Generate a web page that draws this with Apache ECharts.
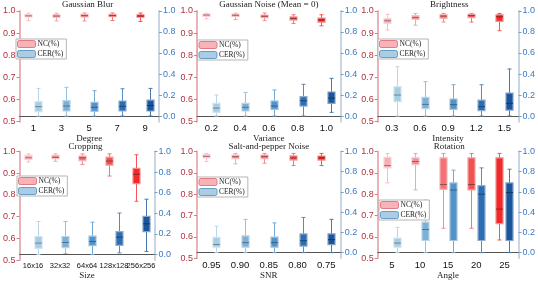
<!DOCTYPE html>
<html><head><meta charset="utf-8">
<script src="https://cdn.jsdelivr.net/npm/echarts@6/dist/echarts.min.js"></script>
<style>html,body{margin:0;padding:0;background:#fff}#c{width:538px;height:281px}</style>
</head><body><div id="c"></div>
<script>
const seriesNames = ['NC(%)', 'CER(%)'];
const panelTitles = ['Gaussian Blur', 'Gaussian Noise (Mean = 0)', 'Brightness', 'Cropping', 'Salt-and-pepper Noise', 'Rotation'];
const axisNames = ['Degree', 'Variance', 'Intensity', 'Size', 'SNR', 'Angle'];
const blurCats = ['1', '3', '5', '7', '9'];
const noiseCats = ['0.2', '0.4', '0.6', '0.8', '1.0'];
const brightCats = ['0.3', '0.6', '0.9', '1.2', '1.5'];
const cropCats = ['16x16', '32x32', '64x64', '128x128', '256x256'];
const saltCats = ['0.95', '0.90', '0.85', '0.80', '0.75'];
const rotCats = ['5', '10', '15', '20', '25'];
const rightTicks = [0, 0.2, 0.4, 0.6, 0.8, 1.0];

// each entry: [min, q1, median, q3, max]
const blurNC = [[0.956,0.973,0.978,0.984,0.990],[0.955,0.972,0.977,0.983,0.990],[0.955,0.973,0.979,0.985,0.991],[0.957,0.974,0.979,0.985,0.991],[0.953,0.972,0.977,0.983,0.991]];
const blurCER = [[0,0.041,0.089,0.137,0.263],[0,0.048,0.095,0.146,0.273],[0,0.044,0.083,0.130,0.241],[0,0.048,0.092,0.143,0.260],[0,0.048,0.100,0.152,0.263]];
const noiseNC = [[0.965,0.976,0.982,0.986,0.990],[0.961,0.976,0.981,0.985,0.990],[0.956,0.970,0.976,0.982,0.991],[0.944,0.959,0.966,0.974,0.983],[0.933,0.950,0.960,0.968,0.983]];
const noiseCER = [[0,0.035,0.076,0.121,0.200],[0,0.048,0.083,0.121,0.225],[0,0.063,0.095,0.143,0.248],[0,0.095,0.146,0.184,0.302],[0.035,0.121,0.171,0.229,0.359]];
const brightNC = [[0.914,0.944,0.956,0.967,0.985],[0.936,0.962,0.970,0.979,0.989],[0.950,0.967,0.977,0.983,0.989],[0.950,0.970,0.980,0.985,0.989],[0.911,0.953,0.974,0.983,0.989]];
const brightCER = [[0,0.137,0.200,0.279,0.470],[0,0.070,0.111,0.178,0.327],[0,0.063,0.108,0.162,0.298],[0,0.051,0.089,0.152,0.298],[0,0.057,0.121,0.219,0.448]];
const cropNC = [[0.952,0.964,0.971,0.982,0.989],[0.955,0.967,0.973,0.982,0.989],[0.940,0.958,0.971,0.979,0.989],[0.887,0.937,0.956,0.974,0.989],[0.771,0.852,0.895,0.922,0.985]];
const cropCER = [[0,0.060,0.111,0.175,0.321],[0.010,0.067,0.117,0.175,0.321],[0,0.086,0.127,0.178,0.314],[0.016,0.089,0.168,0.222,0.403],[0.030,0.222,0.298,0.371,0.537]];
const saltNC = [[0.953,0.970,0.977,0.985,0.991],[0.942,0.966,0.976,0.983,0.991],[0.945,0.966,0.977,0.983,0.991],[0.934,0.960,0.970,0.980,0.991],[0.934,0.960,0.970,0.979,0.991]];
const saltCER = [[0,0.054,0.080,0.150,0.262],[0,0.054,0.099,0.166,0.329],[0,0.054,0.099,0.153,0.294],[0,0.064,0.118,0.185,0.348],[0,0.080,0.128,0.185,0.329]];
const rotNC = [[0.853,0.923,0.934,0.973,0.991],[0.820,0.938,0.953,0.970,0.991],[0.640,0.822,0.845,0.970,0.991],[0.640,0.820,0.845,0.970,0.991],[0.585,0.662,0.730,0.970,0.991]];
const rotCER = [[0,0.054,0.095,0.143,0.250],[0,0.120,0.229,0.302,0.520],[0,0.120,0.619,0.689,0.816],[0,0.120,0.578,0.663,0.838],[0,0.120,0.594,0.689,0.825]];

const panels = [
  {cats: blurCats, nc: blurNC, cer: blurCER},
  {cats: noiseCats, nc: noiseNC, cer: noiseCER},
  {cats: brightCats, nc: brightNC, cer: brightCER},
  {cats: cropCats, nc: cropNC, cer: cropCER},
  {cats: saltCats, nc: saltNC, cer: saltCER},
  {cats: rotCats, nc: rotNC, cer: rotCER}
];

const NC_FILL = ['#f8aeb4', '#f48e94', '#f27276', '#f05252', '#f02a2a'];
const CER_FILL = ['#a8cce4', '#7cb0d7', '#5393c8', '#2d6eb3', '#1b569c'];

function mix(hex, target, t) {
  const a = parseInt(hex.slice(1), 16), b = parseInt(target.slice(1), 16);
  const ch = (v, s) => (v >> s) & 255;
  const r = Math.round(ch(a,16) + (ch(b,16) - ch(a,16)) * t);
  const g = Math.round(ch(a,8) + (ch(b,8) - ch(a,8)) * t);
  const bl = Math.round(ch(a,0) + (ch(b,0) - ch(a,0)) * t);
  return 'rgb(' + r + ',' + g + ',' + bl + ')';
}

function makeRender(fills, offset, bw) {
  return function (params, api) {
    const i = api.value(0);
    const cx = Math.round(api.coord([i, api.value(3)])[0] + offset) + 0.5;
    const yMin = api.coord([i, api.value(1)])[1];
    const yQ1 = api.coord([i, api.value(2)])[1];
    const yMed = api.coord([i, api.value(3)])[1];
    const yQ3 = api.coord([i, api.value(4)])[1];
    const yMax = api.coord([i, api.value(5)])[1];
    const fill = fills[i];
    const whisk = mix(fill, '#ffffff', 0.2);
    const halo = mix(fill, '#ffffff', 0.45);
    const med = mix(fill, '#000000', 0.35);
    const ln = (x1, y1, x2, y2, c, w) => ({type: 'line', shape: {x1, y1, x2, y2}, style: {stroke: c, lineWidth: w || 1}});
    return {
      type: 'group',
      children: [
        ln(cx, yMax, cx, yQ3, whisk),
        ln(cx, yQ1, cx, yMin, whisk),
        ln(cx - 2, yMax, cx + 2, yMax, whisk),
        ln(cx - 2, yMin, cx + 2, yMin, whisk),
        {type: 'rect', shape: {x: cx - bw / 2, y: yQ3, width: bw, height: Math.max(1, yQ1 - yQ3)},
         style: {fill: fill, stroke: halo, lineWidth: 1.2}},
        ln(cx - bw / 2, yMed, cx + bw / 2, yMed, med, 1)
      ]
    };
  };
}

const grids = [
  {left: 16, top: 11, width: 143, height: 110.7},
  {left: 197, top: 11, width: 143.7, height: 110.7},
  {left: 377.7, top: 11, width: 143, height: 110.7},
  {left: 16.5, top: 151.5, width: 138, height: 110.5},
  {left: 197, top: 151.5, width: 143.7, height: 110.5},
  {left: 377.7, top: 151.5, width: 143, height: 110.5}
];
const legendPos = [
  {left: 16, top: 39}, {left: 197.5, top: 40}, {left: 378, top: 39},
  {left: 17, top: 176}, {left: 197.5, top: 177}, {left: 379, top: 200}
];

const option = {
  animation: false,
  backgroundColor: '#ffffff',
  grid: grids,
  title: [], legend: [], xAxis: [], yAxis: [], series: []
};

panels.forEach((p, k) => {
  const g = grids[k];
  option.title.push({
    text: panelTitles[k], left: g.left + g.width / 2, textAlign: 'center',
    top: k < 3 ? 0.5 : 142, padding: 0,
    textStyle: {fontFamily: 'Liberation Serif', fontSize: 9, fontWeight: 'normal', color: '#222'}
  });
  option.legend.push({
    orient: 'vertical', left: legendPos[k].left, top: legendPos[k].top,
    padding: [1, 3, 1, 1], itemGap: 2, itemWidth: 18, itemHeight: 7,
    backgroundColor: '#ffffff', borderColor: '#b5b5b5', borderWidth: 1, borderRadius: 0,
    textStyle: {fontFamily: 'Liberation Serif', fontSize: 7.5, color: '#222', padding: [0, 0, 0, -3]},
    selectedMode: false,
    data: [
      {name: seriesNames[0], icon: 'roundRect', itemStyle: {color: '#f7b3b8', borderColor: '#e27a84', borderWidth: 1}},
      {name: seriesNames[1], icon: 'roundRect', itemStyle: {color: '#a8cde4', borderColor: '#6a9cc4', borderWidth: 1}}
    ]
  });
  option.xAxis.push({
    type: 'category', gridIndex: k, data: p.cats,
    name: axisNames[k], nameLocation: 'middle', nameGap: 6.5,
    nameTextStyle: {fontFamily: 'Liberation Serif', fontSize: 9, color: '#222'},
    axisLine: {show: true, lineStyle: {color: '#555', width: 1}},
    axisTick: {show: false},
    axisLabel: {interval: 0, margin: 2, color: '#111', fontFamily: 'Liberation Sans', fontSize: k === 3 ? 7.5 : 9.5},
    splitLine: {show: false}
  });
  option.yAxis.push({
    type: 'value', gridIndex: k, min: 0.5, max: 1.0, interval: 0.1, position: 'left',
    axisLine: {show: true, lineStyle: {color: '#eab3b7', width: 2}},
    axisTick: {show: true, length: 3, lineStyle: {color: '#c98088', width: 1}},
    axisLabel: {margin: 4, color: '#b0303c', fontFamily: 'Liberation Sans', fontSize: 9, formatter: v => v.toFixed(1)},
    splitLine: {show: false}
  });
  option.yAxis.push({
    type: 'value', gridIndex: k, min: -0.054, max: 1.0, position: 'right',
    axisLine: {show: true, lineStyle: {color: '#c8d5e2', width: 2}},
    axisTick: {show: true, length: 3, customValues: rightTicks, lineStyle: {color: '#7aa0c8', width: 1}},
    axisLabel: {margin: 4, color: '#3a78c0', fontFamily: 'Liberation Sans', fontSize: 9, customValues: rightTicks, formatter: v => v.toFixed(1)},
    splitLine: {show: false}
  });
  const bw = 7;
  option.series.push({
    type: 'custom', name: seriesNames[0], xAxisIndex: k, yAxisIndex: 2 * k,
    itemStyle: {color: '#f7b3b8'},
    renderItem: makeRender(NC_FILL, -5, bw),
    encode: {x: 0, y: [1, 2, 3, 4, 5]},
    data: p.nc.map((d, i) => [i].concat(d))
  });
  option.series.push({
    type: 'custom', name: seriesNames[1], xAxisIndex: k, yAxisIndex: 2 * k + 1,
    itemStyle: {color: '#a8cde4'},
    renderItem: makeRender(CER_FILL, 5, bw),
    encode: {x: 0, y: [1, 2, 3, 4, 5]},
    data: p.cer.map((d, i) => [i].concat(d))
  });
});

const chart = echarts.init(document.getElementById('c'), null, {renderer: 'canvas'});
chart.setOption(option);
</script>
</body></html>
